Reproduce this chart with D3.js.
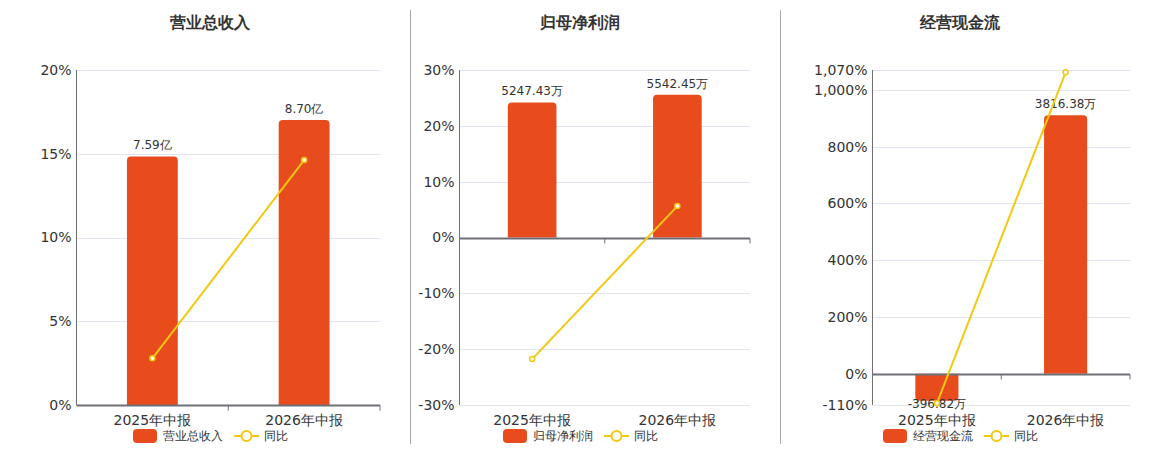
<!DOCTYPE html>
<html><head><meta charset="utf-8">
<script src="https://cdn.jsdelivr.net/npm/d3@7"></script>
<style>
body{margin:0;background:#fff;}
svg{display:block;font-family:"DejaVu Sans",Verdana,sans-serif;}
</style></head>
<body><svg id="c" width="1160" height="450"></svg>
<script>
// ---- data ----
const categories = ["2025年中报", "2026年中报"];
const titles = ["营业总收入", "归母净利润", "经营现金流"];
const barValues1 = [7.59, 8.70];        // 亿
const barLabels1 = ["7.59亿", "8.70亿"];
const yoy1 = [2.79, 14.62];
const barValues2 = [5247.43, 5542.45];  // 万
const barLabels2 = ["5247.43万", "5542.45万"];
const yoy2 = [-21.78, 5.62];
const barValues3 = [-396.82, 3816.38];  // 万
const barLabels3 = ["-396.82万", "3816.38万"];
const yoy3 = [-104, 1061.7];
const ticks1 = [0, 5, 10, 15, 20];
const ticks2 = [-30, -20, -10, 0, 10, 20, 30];
const ticks3 = [-110, 0, 200, 400, 600, 800, 1000, 1070];

const BAR = "#e84c1c", LINE = "#f2c811", TXT = "#333", AX = "#6e7079", GRID = "#e0e6f1";
const svg = d3.select("#c");

const charts = [
  {title: titles[0], legend: "营业总收入", bars: barValues1, labels: barLabels1, yoy: yoy1, ticks: ticks1,
   x0: 76.5, x1: 380, center: 210, yDom: [0, 20], bDom: [0, 10.23]},
  {title: titles[1], legend: "归母净利润", bars: barValues2, labels: barLabels2, yoy: yoy2, ticks: ticks2,
   x0: 459.5, x1: 750, center: 580, yDom: [-30, 30], bDom: [-6506, 6506]},
  {title: titles[2], legend: "经营现金流", bars: barValues3, labels: barLabels3, yoy: yoy3, ticks: ticks3,
   x0: 872.5, x1: 1130, center: 960, yDom: [-110, 1070], bDom: [-4483 * 110 / 1070, 4483]}
];

// dividers
[410.5, 780.5].forEach(x => svg.append("line").attr("x1", x).attr("x2", x).attr("y1", 10).attr("y2", 444)
  .attr("stroke", "#aaa").attr("stroke-width", 1));

const fmt = d => d3.format(",")(d).replace("\u2212", "-");

function barPath(x, w, y0, y1, r) {
  const h = Math.abs(y1 - y0);
  r = Math.min(r, h, w / 2);
  if (y1 < y0) {
    return `M${x},${y0}V${y1 + r}Q${x},${y1} ${x + r},${y1}H${x + w - r}Q${x + w},${y1} ${x + w},${y1 + r}V${y0}Z`;
  } else {
    return `M${x},${y0}V${y1 - r}Q${x},${y1} ${x + r},${y1}H${x + w - r}Q${x + w},${y1} ${x + w},${y1 - r}V${y0}Z`;
  }
}

charts.forEach(c => {
  const g = svg.append("g");
  const y = d3.scaleLinear().domain(c.yDom).range([405, 70]);
  const yb = d3.scaleLinear().domain(c.bDom).range([405, 70]);
  const x = d3.scaleBand().domain(categories).range([c.x0, c.x1]);
  const bw = x.bandwidth() * 0.335;

  g.append("text").attr("x", c.center).attr("y", 28).attr("text-anchor", "middle")
    .attr("font-size", 16).attr("font-weight", "bold").attr("fill", TXT).text(c.title);

  g.selectAll(".grid").data(c.ticks).join("line")
    .attr("x1", c.x0).attr("x2", c.x1).attr("y1", d => Math.round(y(d)) + 0.5).attr("y2", d => Math.round(y(d)) + 0.5)
    .attr("stroke", GRID).attr("stroke-width", 1);

  g.selectAll(".yl").data(c.ticks).join("text")
    .attr("x", c.x0 - 5).attr("y", d => y(d)).attr("dy", "0.35em").attr("text-anchor", "end")
    .attr("font-size", 14).attr("fill", TXT).text(d => fmt(d) + "%");

  g.append("line").attr("x1", c.x0).attr("x2", c.x0).attr("y1", 70).attr("y2", 405)
    .attr("stroke", AX).attr("stroke-width", 1);

  const zero = yb(0);
  c.bars.forEach((v, i) => {
    const bx = x(categories[i]) + (x.bandwidth() - bw) / 2;
    g.append("path").attr("d", barPath(bx, bw, zero, yb(v), 4)).attr("fill", BAR);
    const cx = x(categories[i]) + x.bandwidth() / 2;
    g.append("text").attr("x", cx).attr("y", v >= 0 ? yb(v) - 7 : yb(v) + 7)
      .attr("text-anchor", "middle").attr("font-size", 12).attr("fill", TXT).text(c.labels[i]);
  });

  const zy = Math.round(y(0)) + 0.5;
  g.append("line").attr("x1", c.x0).attr("x2", c.x1).attr("y1", zy).attr("y2", zy)
    .attr("stroke", AX).attr("stroke-width", 2);
  [x.range()[0] + x.bandwidth(), c.x1].forEach(tx => g.append("line")
    .attr("x1", tx).attr("x2", tx).attr("y1", zy).attr("y2", zy + 5).attr("stroke", AX).attr("stroke-width", 1));

  categories.forEach(cat => g.append("text").attr("x", x(cat) + x.bandwidth() / 2).attr("y", 425)
    .attr("text-anchor", "middle").attr("font-size", 14).attr("fill", TXT).text(cat));

  const line = d3.line().x((d, i) => x(categories[i]) + x.bandwidth() / 2).y(d => y(d));
  g.append("path").attr("d", line(c.yoy)).attr("fill", "none").attr("stroke", LINE).attr("stroke-width", 2);
  c.yoy.forEach((v, i) => g.append("circle").attr("cx", x(categories[i]) + x.bandwidth() / 2).attr("cy", y(v))
    .attr("r", 2.5).attr("fill", "#fff").attr("stroke", LINE).attr("stroke-width", 1.5));

  const lx = c.center - 77;
  g.append("rect").attr("x", lx).attr("y", 429).attr("width", 24).attr("height", 14).attr("rx", 4).attr("fill", BAR);
  g.append("text").attr("x", lx + 30).attr("y", 436).attr("dy", "0.35em").attr("font-size", 12).attr("fill", TXT).text(c.legend);
  const l2 = lx + 101;
  g.append("line").attr("x1", l2).attr("x2", l2 + 25).attr("y1", 436).attr("y2", 436).attr("stroke", LINE).attr("stroke-width", 2);
  g.append("circle").attr("cx", l2 + 12.5).attr("cy", 436).attr("r", 5).attr("fill", "#fff").attr("stroke", LINE).attr("stroke-width", 2);
  g.append("text").attr("x", l2 + 30).attr("y", 436).attr("dy", "0.35em").attr("font-size", 12).attr("fill", TXT).text("同比");
});
</script></body></html>
